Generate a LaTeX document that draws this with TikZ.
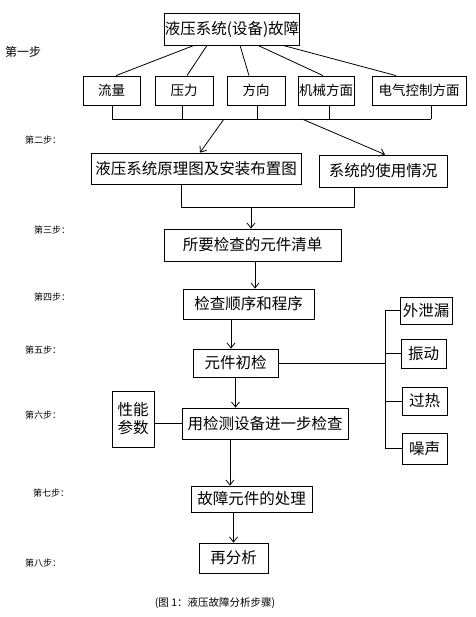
\documentclass[tikz,border=0pt]{standalone}
\usepackage{fontspec}
\setmainfont{Noto Sans CJK SC}
\usetikzlibrary{arrows.meta}

\begin{document}
\begin{tikzpicture}
[x=1pt,y=-1pt,
  boxDecorate/.style={shape=rectangle,draw,inner sep=0pt,line width=0.8pt,font=\fontsize{15.5}{18}\selectfont},%
  smallDecorate/.style={boxDecorate,minimum height=29pt,font=\fontsize{13.5}{16}\selectfont},%
  stepDecorate/.style={anchor=west,inner sep=0pt,font=\fontsize{9}{10}\selectfont},%
  lineDecorate/.style={-,line width=0.8pt},%
  arrowDecorate/.style={-{Straight Barb[length=5pt,width=8pt]},line width=0.8pt}]
\useasboundingbox (0,0) rectangle (475,617);
%% boxes
\foreach \nodename/\x/\y/\w/\h/\txt in {top/232/29/130/32/液压系统(设备)故障,
  diag/196/168.5/210/31/液压系统原理图及安装布置图, usage/383/171/128/32/系统的使用情况,
  list/252.5/245/177/32/所要检查的元件清单, order/248.5/304/131/30/检查顺序和程序,
  init/235.5/363/85/28/元件初检, test/265/423.5/166/31/用检测设备进一步检查,
  handle/251.5/499/121/26/故障元件的处理, redo/233.5/558/69/30/再分析,
  leak/426/310.5/52/27/外泄漏, vib/423.5/353.5/45/29/振动,
  heat/424.5/401/45/28/过热, noise/424.5/448.5/45/31/噪声} {
  \node (\nodename) at (\x,\y) [boxDecorate,minimum width=\w pt,minimum height=\h pt] {\txt};
}
\foreach \nodename/\x/\w/\txt in {flow/111.5/57/流量, press/184/58/压力, dir/256/58/方向,
  mech/326/56/机械方面, elec/419/94/电气控制方面} {
  \node (\nodename) at (\x,90.5) [smallDecorate,minimum width=\w pt] {\txt};
}
\node (perf) at (133,419) [boxDecorate,minimum width=42pt,minimum height=56pt,align=center] {性能\\参数};
%% step labels
\node (step1) at (5,52) [stepDecorate,font=\fontsize{12}{14}\selectfont] {第一步};
\foreach \nodename/\x/\y/\txt in {step2/25/140/第二步：, step3/34/230/第三步：, step4/34/297/第四步：,
  step5/25/350/第五步：, step6/25/415/第六步：, step7/33/493/第七步：, step8/25/563/第八步：} {
  \node (\nodename) at (\x,\y) [stepDecorate] {\txt};
}
\node (caption) at (215,603) [font=\fontsize{10.5}{12}\selectfont] {(图 1：液压故障分析步骤)};
%% edges from the top box
\path
\foreach \endnode/\sx/\ex in {flow/-38/4.5, press/-25/3, dir/8/-7, mech/26/-3, elec/51/-23} {
  ([xshift=\sx pt]top.south) edge[lineDecorate] ([xshift=\ex pt]\endnode.north)
};
%% bus under the first row
\coordinate (busL) at (112,119);
\coordinate (busR) at (431,119);
\foreach \startnode/\sx in {flow/0.5, press/-2, dir/1, mech/3, elec/12} {
  \draw[lineDecorate] ([xshift=\sx pt]\startnode.south) -- ++(0,14);
}
\draw[lineDecorate] (busL) -- (busR);
\coordinate (b1) at (224,119);
\coordinate (b2) at (302,119);
\draw[arrowDecorate] (b1) -- ([xshift=4pt]diag.north);
\draw[arrowDecorate] (b2) -- ([xshift=2pt]usage.north);
%% merge into the list
\coordinate (m1) at (181,207);
\coordinate (m2) at (354,207);
\coordinate (m3) at (251,207);
\draw[lineDecorate] (m1 |- diag.south) -- (m1) -- (m2) -- (m2 |- usage.south);
\draw[arrowDecorate] (m3) -- (m3 |- list.north);
%% main chain
\draw[arrowDecorate] ([xshift=2.5pt]list.south) -- ([xshift=6.5pt]order.north);
\draw[arrowDecorate] ([xshift=-17.5pt]order.south) -- ([xshift=-4.5pt]init.north);
\draw[arrowDecorate] (init.south) -- (init.south |- test.north);
\draw[arrowDecorate] ([xshift=-35pt]test.south) -- ([xshift=-21.5pt]handle.north);
\draw[arrowDecorate] (redo.north |- handle.south) -- (redo.north);
%% branches on the right
\coordinate (spine) at (385,363);
\draw[lineDecorate] (init.east) -- (spine);
\draw[lineDecorate] (leak.west -| spine) -- (noise.west -| spine);
\foreach \endnode in {leak,vib,heat,noise} {
  \draw[lineDecorate] (\endnode.west -| spine) -- (\endnode.west);
}
\draw[lineDecorate] (perf.east |- test.west) -- (test.west);
\end{tikzpicture}
\end{document}
